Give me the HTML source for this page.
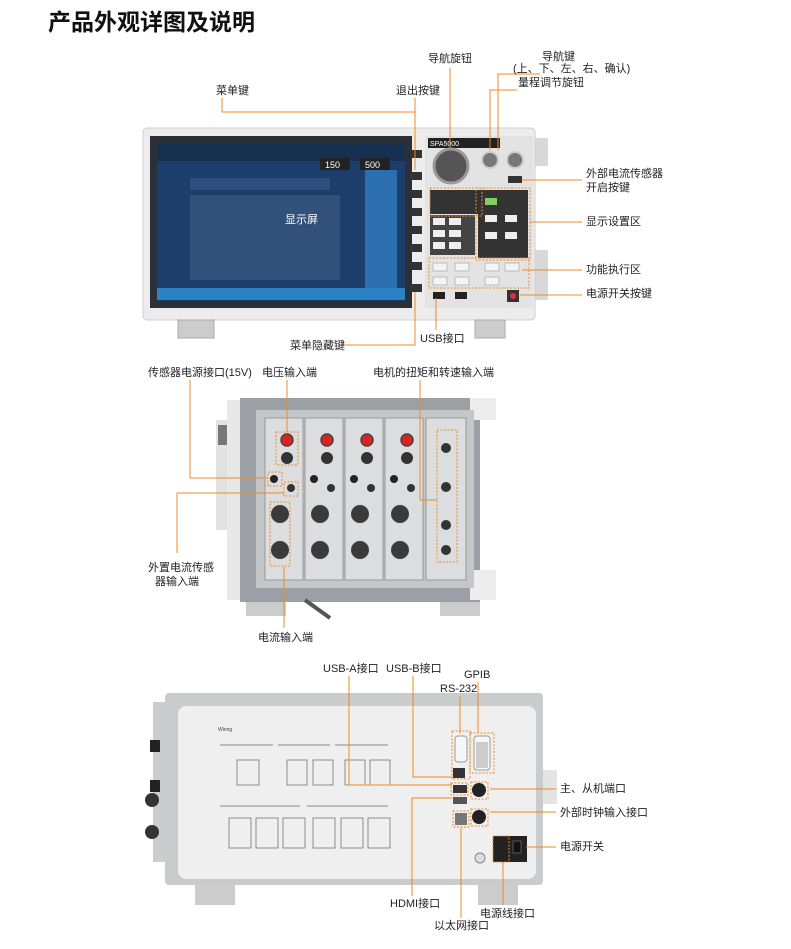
<!DOCTYPE html>
<html><head><meta charset="utf-8">
<style>
html,body{margin:0;padding:0;background:#fff;}
svg text{font-family:"Liberation Sans","Noto Sans CJK SC",sans-serif;}
</style></head><body>
<svg width="791" height="944" viewBox="0 0 791 944" xmlns="http://www.w3.org/2000/svg">
<rect width="791" height="944" fill="#fff"/>
<text x="48" y="30" font-size="23" font-weight="bold" fill="#111">产品外观详图及说明</text>

<!-- ===== Device 1 : front ===== -->
<g>
<rect x="530" y="138" width="18" height="28" fill="#d8d8d8"/>
<rect x="530" y="250" width="18" height="50" fill="#d8d8d8"/>
<rect x="143" y="128" width="392" height="192" rx="4" fill="#ececec" stroke="#cfcfcf"/>
<rect x="150" y="136" width="262" height="172" fill="#2a2f38"/>
<rect x="157" y="143" width="248" height="158" fill="#1d3d6b"/>
<rect x="157" y="143" width="248" height="18" fill="#163052"/>
<rect x="320" y="158" width="30" height="12" fill="#222"/><text x="325" y="168" font-size="9" fill="#fff">150</text>
<rect x="360" y="158" width="30" height="12" fill="#222"/><text x="365" y="168" font-size="9" fill="#fff">500</text>
<rect x="190" y="178" width="140" height="12" fill="#2d4f80"/>
<rect x="190" y="195" width="150" height="85" fill="#3b5a82" opacity="0.7"/>
<rect x="365" y="170" width="32" height="118" fill="#2b6fb0"/>
<rect x="157" y="288" width="248" height="12" fill="#2b82c2"/>
<text x="285" y="223" font-size="11" fill="#fff">显示屏</text>
<g fill="#333">
<rect x="410" y="150" width="12" height="8"/><rect x="410" y="172" width="12" height="8"/><rect x="410" y="190" width="12" height="8"/><rect x="410" y="208" width="12" height="8"/><rect x="410" y="226" width="12" height="8"/><rect x="410" y="244" width="12" height="8"/><rect x="410" y="262" width="12" height="8"/><rect x="410" y="284" width="12" height="8"/>
</g>
<rect x="425" y="136" width="108" height="172" fill="#e3e3e3"/>
<rect x="428" y="138" width="72" height="10" fill="#222"/><text x="430" y="146" font-size="7" fill="#fff">SPA5000</text>
<circle cx="451" cy="166" r="17" fill="#555" stroke="#999" stroke-width="3"/>
<circle cx="490" cy="160" r="8" fill="#777" stroke="#ccc" stroke-width="2"/>
<circle cx="515" cy="160" r="8" fill="#777" stroke="#ccc" stroke-width="2"/>
<rect x="508" y="176" width="14" height="7" fill="#333"/>
<rect x="430" y="190" width="50" height="24" fill="#333"/>
<rect x="478" y="190" width="50" height="68" fill="#333"/>
<rect x="430" y="215" width="45" height="40" fill="#444"/>
<g fill="#eee"><rect x="433" y="218" width="12" height="7"/><rect x="449" y="218" width="12" height="7"/><rect x="433" y="230" width="12" height="7"/><rect x="449" y="230" width="12" height="7"/><rect x="433" y="242" width="12" height="7"/><rect x="449" y="242" width="12" height="7"/>
<rect x="485" y="198" width="12" height="7" fill="#8c6"/><rect x="485" y="215" width="12" height="7"/><rect x="505" y="215" width="12" height="7"/><rect x="485" y="232" width="12" height="7"/><rect x="505" y="232" width="12" height="7"/></g>
<g fill="#f4f4f4" stroke="#bbb"><rect x="433" y="263" width="14" height="8"/><rect x="455" y="263" width="14" height="8"/><rect x="485" y="263" width="14" height="8"/><rect x="505" y="263" width="14" height="8"/><rect x="433" y="277" width="14" height="8"/><rect x="455" y="277" width="14" height="8"/><rect x="485" y="277" width="14" height="8"/></g>
<rect x="433" y="292" width="12" height="7" fill="#222"/><rect x="455" y="292" width="12" height="7" fill="#222"/>
<rect x="507" y="290" width="12" height="12" fill="#333"/><circle cx="513" cy="296" r="3" fill="#d33"/>
<rect x="178" y="320" width="36" height="18" fill="#ccc" stroke="#aaa"/>
<rect x="475" y="320" width="30" height="18" fill="#ccc" stroke="#aaa"/>
</g>
<g stroke="#f08a24" stroke-width="1" fill="none">
<path d="M222 98 V112 H415 V150"/>
<path d="M415 98 V170"/>
<path d="M450 68 V148"/>
<path d="M540 74 H498 V150"/>
<path d="M517 90 H490 V150"/>
<path d="M582 180 H522"/>
<path d="M582 222 H530"/>
<path d="M582 270 H522"/>
<path d="M582 295 H520"/>
<path d="M343 345 H415 V292"/>
<path d="M436 330 V298"/>
<rect x="430" y="188" width="52" height="28" stroke-dasharray="2,1.5"/>
<rect x="476" y="188" width="54" height="72" stroke-dasharray="2,1.5"/>
<rect x="429" y="258" width="100" height="30" stroke-dasharray="2,1.5"/>
</g>
<g font-size="11" fill="#222">
<text x="216" y="94">菜单键</text>
<text x="396" y="94">退出按键</text>
<text x="428" y="62">导航旋钮</text>
<text x="542" y="60">导航键</text>
<text x="513" y="72">(上、下、左、右、确认)</text>
<text x="518" y="86">量程调节旋钮</text>
<text x="586" y="177">外部电流传感器</text>
<text x="586" y="191">开启按键</text>
<text x="586" y="225">显示设置区</text>
<text x="586" y="273">功能执行区</text>
<text x="586" y="297">电源开关按键</text>
<text x="290" y="349">菜单隐藏键</text>
<text x="420" y="342">USB接口</text>
</g>

<!-- ===== Device 2 : side panel ===== -->
<g>
<rect x="216" y="420" width="14" height="110" fill="#e2e2e2"/>
<rect x="218" y="425" width="10" height="20" fill="#777"/>
<rect x="227" y="400" width="22" height="200" fill="#e8e8e8"/>
<rect x="240" y="398" width="240" height="204" fill="#9aa0a6"/>
<rect x="470" y="398" width="26" height="22" fill="#ededed"/>
<rect x="470" y="570" width="26" height="30" fill="#ededed"/>
<rect x="256" y="410" width="218" height="178" fill="#c4c6c8"/>
<g fill="#dcdddf" stroke="#999">
<rect x="265" y="418" width="38" height="162"/><rect x="305" y="418" width="38" height="162"/><rect x="345" y="418" width="38" height="162"/><rect x="385" y="418" width="38" height="162"/><rect x="426" y="418" width="40" height="162"/>
</g>
<g>
<circle cx="287" cy="440" r="6" fill="#d22" stroke="#444" stroke-width="1.5"/><circle cx="327" cy="440" r="6" fill="#d22" stroke="#444" stroke-width="1.5"/><circle cx="367" cy="440" r="6" fill="#d22" stroke="#444" stroke-width="1.5"/><circle cx="407" cy="440" r="6" fill="#d22" stroke="#444" stroke-width="1.5"/>
<circle cx="287" cy="458" r="6" fill="#333"/><circle cx="327" cy="458" r="6" fill="#333"/><circle cx="367" cy="458" r="6" fill="#333"/><circle cx="407" cy="458" r="6" fill="#333"/>
<circle cx="274" cy="479" r="4" fill="#222"/><circle cx="314" cy="479" r="4" fill="#222"/><circle cx="354" cy="479" r="4" fill="#222"/><circle cx="394" cy="479" r="4" fill="#222"/>
<circle cx="291" cy="488" r="4" fill="#333"/><circle cx="331" cy="488" r="4" fill="#333"/><circle cx="371" cy="488" r="4" fill="#333"/><circle cx="411" cy="488" r="4" fill="#333"/>
<circle cx="280" cy="514" r="9" fill="#3a3a3a"/><circle cx="320" cy="514" r="9" fill="#3a3a3a"/><circle cx="360" cy="514" r="9" fill="#3a3a3a"/><circle cx="400" cy="514" r="9" fill="#3a3a3a"/>
<circle cx="280" cy="550" r="9" fill="#3a3a3a"/><circle cx="320" cy="550" r="9" fill="#3a3a3a"/><circle cx="360" cy="550" r="9" fill="#3a3a3a"/><circle cx="400" cy="550" r="9" fill="#3a3a3a"/>
<circle cx="446" cy="448" r="5" fill="#333"/><circle cx="446" cy="487" r="5" fill="#333"/><circle cx="446" cy="525" r="5" fill="#333"/><circle cx="446" cy="550" r="5" fill="#333"/>
</g>
<rect x="246" y="602" width="40" height="14" fill="#ccc"/><rect x="440" y="602" width="40" height="14" fill="#ccc"/>
<path d="M305 600 L330 618" stroke="#555" stroke-width="4"/>
</g>
<g stroke="#f08a24" stroke-width="1" fill="none">
<path d="M190 380 V478 H268"/>
<path d="M287 380 V432"/>
<path d="M420 380 V500 H437"/>
<path d="M177 553 V493 H284"/>
<path d="M284 628 V567"/>
<rect x="276" y="432" width="22" height="33" stroke-dasharray="2,1.5"/>
<rect x="268" y="472" width="14" height="14" stroke-dasharray="2,1.5"/>
<rect x="284" y="482" width="14" height="14" stroke-dasharray="2,1.5"/>
<rect x="270" y="502" width="20" height="64" stroke-dasharray="2,1.5"/>
<rect x="437" y="430" width="20" height="132" stroke-dasharray="2,1.5"/>
</g>
<g font-size="11" fill="#222">
<text x="148" y="376">传感器电源接口(15V)</text>
<text x="262" y="376">电压输入端</text>
<text x="373" y="376">电机的扭矩和转速输入端</text>
<text x="148" y="571">外置电流传感</text>
<text x="155" y="585">器输入端</text>
<text x="258" y="641">电流输入端</text>
</g>

<!-- ===== Device 3 : rear ===== -->
<g>
<rect x="153" y="702" width="16" height="160" fill="#ccc"/>
<rect x="150" y="740" width="10" height="12" fill="#222"/><rect x="150" y="780" width="10" height="12" fill="#222"/>
<circle cx="152" cy="800" r="7" fill="#333"/><circle cx="152" cy="832" r="7" fill="#333"/>
<rect x="541" y="770" width="16" height="34" fill="#e4e4e4"/>
<rect x="165" y="693" width="378" height="192" rx="4" fill="#c9cbcd"/>
<rect x="178" y="706" width="358" height="173" rx="8" fill="#efeff0"/>
<text x="218" y="731" font-size="5" fill="#444">Wiring</text>
<g fill="none" stroke="#666" stroke-width="0.7">
<line x1="220" y1="745" x2="273" y2="745"/><line x1="278" y1="745" x2="330" y2="745"/><line x1="335" y1="745" x2="388" y2="745"/>
<rect x="237" y="760" width="22" height="25"/><rect x="287" y="760" width="20" height="25"/><rect x="313" y="760" width="20" height="25"/><rect x="345" y="760" width="20" height="25"/><rect x="370" y="760" width="20" height="25"/>
<line x1="220" y1="806" x2="300" y2="806"/><line x1="307" y1="806" x2="388" y2="806"/>
<rect x="229" y="818" width="22" height="30"/><rect x="256" y="818" width="22" height="30"/><rect x="283" y="818" width="22" height="30"/><rect x="313" y="818" width="22" height="30"/><rect x="341" y="818" width="22" height="30"/><rect x="368" y="818" width="22" height="30"/>
</g>
<rect x="455" y="736" width="12" height="26" rx="3" fill="#f6f6f6" stroke="#999"/>
<rect x="474" y="736" width="16" height="34" rx="3" fill="#f6f6f6" stroke="#999"/>
<rect x="476" y="742" width="12" height="26" fill="#ccc"/>
<rect x="453" y="768" width="12" height="10" fill="#333"/>
<rect x="453" y="785" width="14" height="8" fill="#333"/>
<rect x="453" y="797" width="14" height="7" fill="#555"/>
<circle cx="479" cy="790" r="7" fill="#222"/>
<circle cx="479" cy="817" r="7" fill="#222"/>
<rect x="455" y="813" width="12" height="12" fill="#777"/>
<rect x="493" y="836" width="34" height="26" fill="#222"/><rect x="513" y="841" width="8" height="12" fill="#111" stroke="#555"/>
<circle cx="480" cy="858" r="5" fill="#ddd" stroke="#888"/>
<rect x="195" y="885" width="40" height="20" fill="#ccc"/><rect x="478" y="885" width="40" height="20" fill="#ccc"/>
</g>
<g stroke="#f08a24" stroke-width="1" fill="none">
<path d="M349 676 V785 H452"/>
<path d="M413 676 V777 H452"/>
<path d="M478 682 V733"/>
<path d="M460 696 V733"/>
<path d="M556 789 H490"/>
<path d="M556 812 H490"/>
<path d="M556 847 H526"/>
<path d="M412 896 V798 H452"/>
<path d="M461 918 V828"/>
<path d="M503 905 V862"/>
<rect x="452" y="731" width="18" height="48" stroke-dasharray="2,1.5"/>
<rect x="470" y="733" width="24" height="40" stroke-dasharray="2,1.5"/>
<rect x="451" y="783" width="17" height="12" stroke-dasharray="2,1.5"/>
<rect x="471" y="782" width="17" height="17" stroke-dasharray="2,1.5"/>
<rect x="471" y="809" width="17" height="17" stroke-dasharray="2,1.5"/>
<rect x="453" y="811" width="16" height="16" stroke-dasharray="2,1.5"/>
<rect x="493" y="836" width="16" height="26" stroke-dasharray="2,1.5"/>
</g>
<g font-size="11" fill="#222">
<text x="323" y="672">USB-A接口</text>
<text x="386" y="672">USB-B接口</text>
<text x="464" y="678">GPIB</text>
<text x="440" y="692">RS-232</text>
<text x="560" y="792">主、从机端口</text>
<text x="560" y="816">外部时钟输入接口</text>
<text x="560" y="850">电源开关</text>
<text x="390" y="907">HDMI接口</text>
<text x="480" y="917">电源线接口</text>
<text x="434" y="929">以太网接口</text>
</g>
</svg>
</body></html>
